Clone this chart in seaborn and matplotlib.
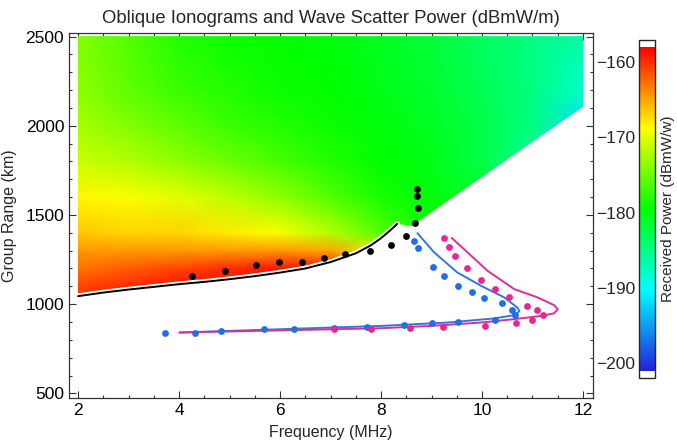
import numpy as np
import matplotlib
matplotlib.use("Agg")
import matplotlib.pyplot as plt
import seaborn as sns
from matplotlib.colors import LinearSegmentedColormap, Normalize
from matplotlib.patches import Polygon
from matplotlib.ticker import MultipleLocator

# scatter power field (dBmW/m) on a coarse grid
grid_freq = [2, 3, 4, 5, 6, 7, 8, 9, 10, 11, 12]
grid_range = [1000, 1100, 1200, 1300, 1400, 1600, 1800, 2000, 2200, 2500]
grid_power = [
    [-160.5, -159.5, -159.0, -159.0, -159.0, -159.0, -159.0, -172.0, -180.0, -184.0, -187.0],
    [-161.0, -160.0, -159.0, -159.0, -159.0, -159.0, -160.0, -174.0, -180.0, -184.0, -187.0],
    [-163.0, -162.0, -161.0, -160.0, -159.0, -159.0, -163.0, -176.0, -180.0, -184.0, -187.0],
    [-164.5, -164.5, -164.5, -164.5, -164.5, -165.0, -170.0, -178.0, -180.0, -184.0, -187.0],
    [-166.5, -167.0, -167.0, -168.0, -169.0, -172.0, -176.0, -179.0, -181.0, -184.0, -187.0],
    [-168.5, -169.0, -170.0, -171.5, -173.5, -176.0, -178.5, -180.0, -181.5, -185.0, -187.0],
    [-171.0, -172.0, -173.5, -175.0, -176.5, -178.0, -179.5, -180.5, -182.5, -186.0, -188.0],
    [-172.5, -174.0, -175.5, -177.0, -178.0, -179.0, -180.0, -181.0, -182.5, -185.0, -192.0],
    [-173.5, -175.5, -177.0, -178.0, -179.0, -179.5, -180.5, -181.5, -183.0, -185.0, -188.0],
    [-174.0, -176.0, -178.0, -179.0, -179.5, -180.0, -181.0, -182.0, -183.5, -185.0, -186.5],
]

# black curve (lower edge of the power region)
curve_freq = [2.0, 2.5, 3.0, 3.5, 4.0, 4.5, 5.0, 5.5, 6.0, 6.5, 7.0, 7.5, 7.8, 8.0, 8.2, 8.32]
curve_range = [1045, 1065, 1082, 1097, 1112, 1125, 1140, 1157, 1177, 1200, 1236, 1285, 1330, 1370, 1418, 1450]

# right-hand edge of the power region
edge_freq = [8.62, 10.2, 11.1, 12.0, 12.0, 2.0]
edge_range = [1440, 1752, 1930, 2106, 2540, 2540]

# observed ionogram points
black_freq = [4.26, 4.91, 5.52, 5.98, 6.44, 6.88, 7.29, 7.78, 8.20, 8.50, 8.67, 8.74, 8.72, 8.71]
black_range = [1159, 1184, 1221, 1238, 1235, 1259, 1280, 1296, 1330, 1381, 1456, 1540, 1606, 1647]

blue_freq = [8.65, 8.74, 9.03, 9.25, 9.53, 9.80, 10.03, 10.39, 10.59, 10.65, 10.26, 9.53, 9.00,
             8.45, 7.73, 7.07, 6.27, 5.68, 4.83, 4.31, 3.73]
blue_range = [1356, 1315, 1210, 1156, 1103, 1066, 1034, 1007, 970, 940, 914, 900, 895,
              884, 872, 869, 858, 858, 848, 841, 837]

pink_freq = [9.25, 9.35, 9.47, 9.71, 9.98, 10.26, 10.54, 10.90, 11.08, 11.20, 11.00, 10.67,
             10.06, 9.22, 8.57, 7.81, 7.07]
pink_range = [1370, 1321, 1268, 1203, 1137, 1083, 1038, 990, 970, 942, 912, 893,
              878, 872, 869, 859, 863]

# modelled ionogram traces
blue_line_freq = [8.72, 9.05, 9.51, 9.98, 10.44, 10.70, 10.74, 10.67, 10.24, 9.32, 7.99, 4.01]
blue_line_range = [1398, 1291, 1178, 1103, 1038, 981, 962, 940, 920, 897, 878, 841]

pink_line_freq = [9.40, 9.71, 10.11, 10.64, 11.10, 11.43, 11.50, 11.43, 11.17, 10.64, 9.98,
                  8.98, 7.99, 4.01]
pink_line_range = [1371, 1291, 1187, 1084, 1038, 994, 972, 949, 934, 916, 897,
                   878, 865, 841]

cbar_ticks = [-160, -170, -180, -190, -200]

sns.set_style("ticks")
plt.rcParams["font.family"] = ["Liberation Sans", "DejaVu Sans"]

fig = plt.figure(figsize=(6.77, 4.42), dpi=100)
ax = fig.add_axes([0.102, 0.100, 0.774, 0.826])

cmap = LinearSegmentedColormap.from_list(
    "power", ["#2222e0", "#00ffff", "#00ff00", "#ffff00", "#ff0000"])
cmap.set_over("white")
cmap.set_under("white")
norm = Normalize(vmin=-201, vmax=-158)

F, R = np.meshgrid(grid_freq, grid_range)
mesh = ax.pcolormesh(F, R, np.array(grid_power), shading="gouraud",
                     cmap=cmap, norm=norm, zorder=1)
region = Polygon(list(zip(curve_freq + edge_freq, curve_range + edge_range)),
                 closed=True, transform=ax.transData, facecolor="none", edgecolor="none")
ax.add_patch(region)
mesh.set_clip_path(region)

# black curve with a thin white rim
sns.lineplot(x=curve_freq, y=curve_range, color="white", linewidth=4.0,
             sort=False, estimator=None, ax=ax, zorder=2)
sns.lineplot(x=curve_freq, y=curve_range, color="black", linewidth=1.4,
             sort=False, estimator=None, ax=ax, zorder=3)

sns.lineplot(x=blue_line_freq, y=blue_line_range, color="#2f7ad6", linewidth=1.4,
             sort=False, estimator=None, ax=ax, zorder=3)
sns.lineplot(x=pink_line_freq, y=pink_line_range, color="#d9309a", linewidth=1.4,
             sort=False, estimator=None, ax=ax, zorder=3)

sns.scatterplot(x=black_freq, y=black_range, color="black", s=24, linewidth=0, ax=ax, zorder=4)
sns.scatterplot(x=blue_freq, y=blue_range, color="#1f6fe6", s=24, linewidth=0, ax=ax, zorder=4)
sns.scatterplot(x=pink_freq, y=pink_range, color="#ec2590", s=24, linewidth=0, ax=ax, zorder=4)

ax.set_xlim(1.82, 12.2)
ax.set_ylim(475, 2522)
ax.xaxis.set_major_locator(MultipleLocator(2))
ax.xaxis.set_minor_locator(MultipleLocator(0.5))
ax.yaxis.set_major_locator(MultipleLocator(500))
ax.yaxis.set_minor_locator(MultipleLocator(100))
ax.tick_params(which="both", direction="in", top=True, right=True, colors="#333333",
               labelcolor="black", labelsize=12.5, width=0.8)
ax.tick_params(which="major", length=5)
ax.tick_params(which="minor", length=2.5)
for sp in ax.spines.values():
    sp.set_color("#333333")
    sp.set_linewidth(0.9)

ax.set_title("Oblique Ionograms and Wave Scatter Power (dBmW/m)", fontsize=13.3, pad=7)
ax.set_xlabel("Frequency (MHz)", fontsize=11.5, labelpad=5)
ax.set_ylabel("Group Range (km)", fontsize=11.5, labelpad=6)

cax = fig.add_axes([0.944, 0.145, 0.0236, 0.765])
cbar = fig.colorbar(mesh, cax=cax, extend="both", extendrect=True, extendfrac=0.022,
                    ticks=cbar_ticks)
cbar.ax.yaxis.set_ticks_position("left")
cbar.ax.yaxis.set_label_position("right")
cbar.ax.tick_params(length=0, labelsize=12.5, pad=3)
cbar.set_ticklabels(["\u2212160", "\u2212170", "\u2212180", "\u2212190", "\u2212200"])
cbar.outline.set_linewidth(1.0)
cbar.set_label("Received Power (dBmW/w)", fontsize=11, labelpad=4)

fig.savefig("out.png", dpi=100)
